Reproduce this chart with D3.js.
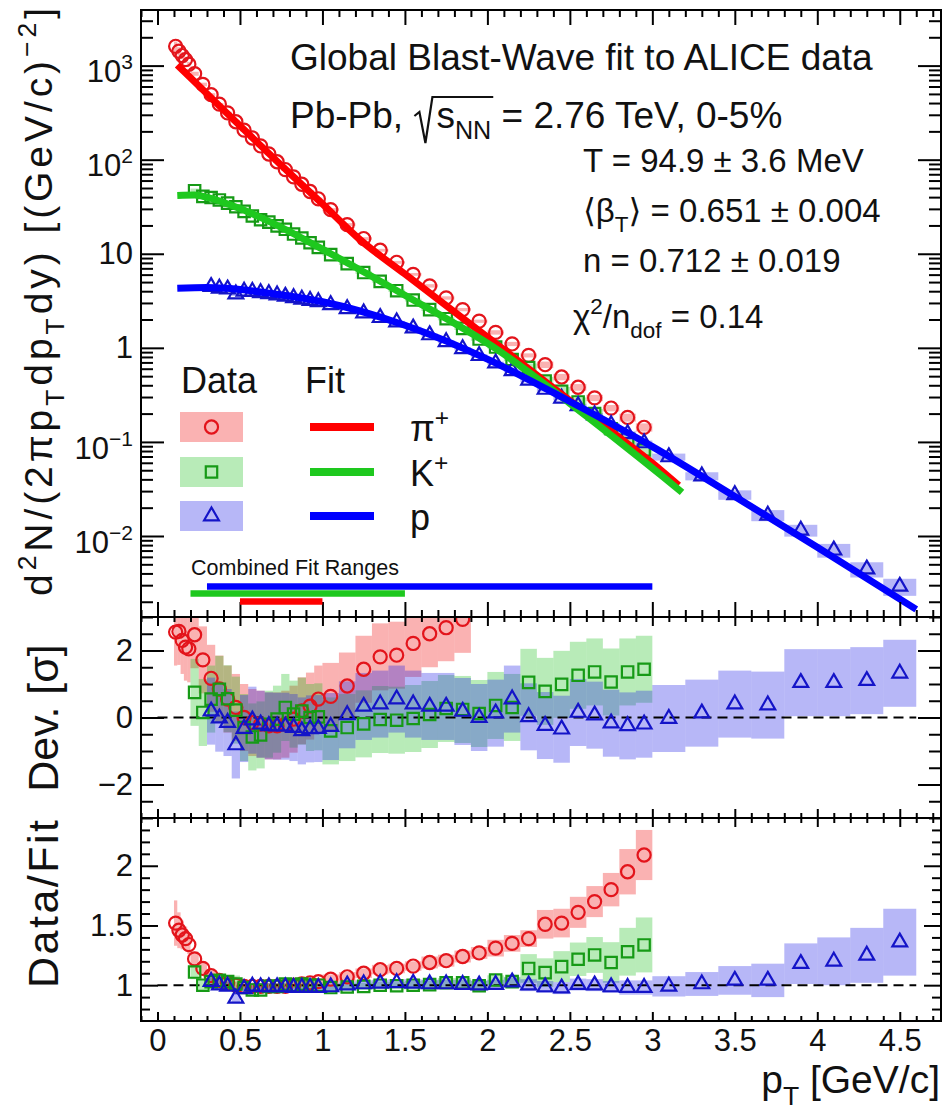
<!DOCTYPE html>
<html><head><meta charset="utf-8">
<script src="https://cdn.jsdelivr.net/npm/d3@7"></script>
<style>
html,body{margin:0;padding:0;background:#fff;}
svg text{font-family:"Liberation Sans","DejaVu Sans",Arial,sans-serif;fill:#111;white-space:pre;}
</style></head><body>
<svg id="chart" width="945" height="1113"></svg>
<script>
// ---------------- data ----------------
const xDomain = [-0.1, 4.75];
const specDomain = [1.377e-3, 3.9e3];
const devDomain = [-3, 3];
const ratioDomain = [0.7, 2.4];

const xMajor = [0,0.5,1,1.5,2,2.5,3,3.5,4,4.5];
const xMajorLabels = ["0","0.5","1","1.5","2","2.5","3","3.5","4","4.5"];
const specMajor = [1e-2,1e-1,1,10,1e2,1e3];
const specLabels = [[["10"],["−2","sup"]],[["10"],["−1","sup"]],[["1"]],[["10"]],[["10"],["2","sup"]],[["10"],["3","sup"]]];
const devMajor = [-2,0,2];
const devLabels = ["−2","0","2"];
const ratioMajor = [1,1.5,2];
const ratioLabels = ["1","1.5","2"];

// pi+
const piEdges = [0.10,0.12,0.14,0.16,0.18,0.20,0.25,0.30,0.35,0.40,0.45,0.50,0.55,0.60,0.65,0.70,0.75,0.80,0.85,0.90,0.95,1.00,1.1,1.2,1.3,1.4,1.5,1.6,1.7,1.8,1.9,2.0,2.1,2.2,2.3,2.4,2.5,2.6,2.7,2.8,2.9,3.0];
const piSpec = [1603,1422,1279,1159,1033,820,631,491,389,314,253,206,170,140,115,95.1,78.5,65.6,54.8,45.9,38.4,29.4,20.4,14.5,10.9,8.11,6.04,4.56,3.39,2.55,1.92,1.46,1.10,0.832,0.662,0.490,0.381,0.294,0.229,0.182,0.143];
const piRatio = [1.52,1.46,1.42,1.39,1.34,1.22,1.14,1.08,1.04,1.02,1.00,0.99,0.99,0.99,0.99,0.99,0.99,1.00,1.01,1.02,1.03,1.05,1.07,1.10,1.13,1.14,1.16,1.19,1.205,1.24,1.27,1.31,1.35,1.39,1.51,1.52,1.61,1.70,1.80,1.95,2.09];
const piRatioErr = [0.19,0.15,0.12,0.10,0.08,0.06,0.05,0.04,0.03,0.03,0.03,0.03,0.03,0.03,0.03,0.03,0.03,0.03,0.03,0.03,0.03,0.04,0.04,0.04,0.04,0.04,0.04,0.05,0.05,0.05,0.05,0.07,0.07,0.07,0.12,0.12,0.13,0.13,0.14,0.19,0.21];
const piDev = [2.55,2.57,2.3,2.1,2.05,2.47,1.72,1.17,0.85,0.55,0.3,0.0,-0.15,-0.2,-0.25,-0.25,-0.2,-0.05,0.2,0.34,0.55,0.63,0.94,1.44,1.81,1.86,2.21,2.5,2.68,2.93,null,null,null,null,null,null,null,null,null,null,null];
const piFitPt = [0.12,0.2,0.3,0.5,0.75,1.0,1.23,1.5,2.0,2.5,3.05,3.16];
const piFitVal = [1014,741,501,229,87.1,33.9,14.0,6.08,1.30,0.276,0.0504,0.0345];

// K+
const kEdges = [0.20,0.25,0.30,0.35,0.40,0.45,0.50,0.55,0.60,0.65,0.70,0.75,0.80,0.85,0.90,0.95,1.00,1.1,1.2,1.3,1.4,1.5,1.6,1.7,1.8,1.9,2.0,2.1,2.2,2.3,2.4,2.5,2.6,2.7,2.8,2.9,3.0];
const kSpec = [46.8,40.7,39.6,37.3,34.5,31.6,28.2,25.2,23.0,21.7,19.8,18.2,16.2,14.7,13.1,11.7,9.8,7.85,6.31,5.09,4.05,3.22,2.55,2.04,1.61,1.24,1.02,0.752,0.618,0.444,0.345,0.266,0.200,0.138,0.108,0.082];
const kRatio = [1.11,1.00,1.03,1.04,1.03,1.01,0.98,0.96,0.96,0.99,0.99,1.01,1.00,1.01,1.00,1.00,0.98,0.985,0.99,1.00,0.995,1.00,1.005,1.02,1.02,0.995,1.043,1.03,1.14,1.105,1.155,1.217,1.253,1.19,1.28,1.337];
const kRatioErr = [0.06,0.05,0.04,0.04,0.05,0.07,0.03,0.03,0.03,0.03,0.03,0.03,0.03,0.03,0.03,0.03,0.03,0.03,0.03,0.03,0.03,0.035,0.035,0.04,0.04,0.04,0.04,0.04,0.12,0.12,0.13,0.14,0.15,0.17,0.20,0.23];
const kDev = [0.75,0.15,0.55,0.84,0.56,0.22,-0.3,-0.58,-0.52,-0.2,-0.05,0.3,0.1,0.19,0.0,0.02,-0.4,-0.3,-0.19,-0.06,-0.08,-0.03,0.09,0.27,0.24,0.12,0.36,0.3,1.05,0.78,0.99,1.26,1.36,1.06,1.36,1.44];
const kFitPt = [0.12,0.225,0.3,0.5,0.75,1.05,1.5,2.06,2.5,3.05,3.18];
const kFitVal = [41.7,42.2,39.8,30.2,19.1,10.0,3.63,0.955,0.257,0.0447,0.0291];

// p
const pEdges = [0.30,0.35,0.40,0.45,0.50,0.55,0.60,0.65,0.70,0.75,0.80,0.85,0.90,0.95,1.00,1.1,1.2,1.3,1.4,1.5,1.6,1.7,1.8,1.9,2.0,2.1,2.2,2.3,2.4,2.5,2.6,2.7,2.8,2.9,3.0,3.2,3.4,3.6,3.8,4.0,4.2,4.4,4.6];
const pSpec = [4.47,4.29,4.20,3.73,3.99,3.97,3.85,3.75,3.64,3.52,3.40,3.28,3.18,3.08,2.87,2.60,2.34,2.09,1.88,1.62,1.37,1.16,0.977,0.824,0.687,0.570,0.452,0.361,0.291,0.242,0.193,0.152,0.122,0.0975,0.0692,0.0433,0.0274,0.0166,0.0115,0.00706,0.00444,0.00291];
const pRatio = [1.03,1.00,0.99,0.89,0.97,0.99,0.985,0.985,0.985,0.985,0.98,0.98,0.98,0.98,0.985,1.0,1.01,1.015,1.02,1.015,1.01,1.01,1.005,1.0,1.005,1.025,1.0,0.985,0.975,1.005,1.0,0.985,0.98,0.98,0.99,1.01,1.04,1.04,1.18,1.2,1.25,1.36];
const pRatioErr = [0.04,0.04,0.04,0.04,0.03,0.03,0.03,0.03,0.03,0.03,0.03,0.03,0.03,0.03,0.03,0.03,0.03,0.03,0.03,0.035,0.035,0.035,0.04,0.04,0.04,0.04,0.05,0.05,0.05,0.05,0.05,0.05,0.06,0.06,0.085,0.10,0.12,0.14,0.17,0.20,0.23,0.28];
const pDev = [0.19,-0.02,-0.15,-0.82,-0.33,-0.08,-0.2,-0.25,-0.26,-0.26,-0.3,-0.4,-0.34,-0.33,-0.27,0.08,0.33,0.4,0.55,0.4,0.33,0.33,0.18,0.0,0.13,0.55,0.02,-0.24,-0.35,0.15,0.07,-0.17,-0.25,-0.2,-0.03,0.13,0.4,0.37,1.04,1.04,1.1,1.32];
const pFitPt = [0.12,0.3,0.5,0.7,1.0,1.5,2.0,2.5,3.0,3.5,4.0,4.6];
const pFitVal = [4.30,4.37,4.17,3.76,3.09,1.74,0.759,0.269,0.0891,0.0263,0.00759,0.00166];

const devBand = 1.0;           // deviation band = +-1 sigma
const fitRanges = [[0.3,3.0],[0.2,1.5],[0.5,1.0]]; // p, K, pi
const legendNames = [[["π"],["+","sup"]],[["K"],["+","sup"]],[["p"]]];
const params = [
  [["T = 94.9 ± 3.6 MeV"]],
  [["⟨β"],["T","sub"],["⟩ = 0.651 ± 0.004"]],
  [["n = 0.712 ± 0.019"]],
  [["χ"],["2","sup"],["/n"],["dof","sub"],[" = 0.14"]]
];

// ---------------- layout ----------------
const svg = d3.select("#chart");
const L = 141, R = 941;
const P = {spec:[10,617], dev:[617,818], ratio:[818,1021]};
const x = d3.scaleLinear().domain(xDomain).range([L,R]);
const ySpec = d3.scaleLog().domain(specDomain).range([P.spec[1],P.spec[0]]);
const yDev = d3.scaleLinear().domain(devDomain).range([P.dev[1],P.dev[0]]);
const yRat = d3.scaleLinear().domain(ratioDomain).range([P.ratio[1],P.ratio[0]]);

const defs = svg.append("defs");
Object.entries(P).forEach(([k,[t,b]])=>{
  defs.append("clipPath").attr("id","clip-"+k).append("rect")
    .attr("x",L).attr("y",t).attr("width",R-L).attr("height",b-t);
});

function mkBins(edges, spec, ratio, rErr, dev){
  return d3.range(edges.length-1).map(i=>({lo:edges[i],hi:edges[i+1],pt:(edges[i]+edges[i+1])/2,
    spec:spec[i],ratio:ratio[i],rErr:rErr[i],dev:dev[i]}));
}
const species = [
  {key:"pi", bins:mkBins(piEdges,piSpec,piRatio,piRatioErr,piDev), fit:piFitPt.map((p,i)=>[p,piFitVal[i]]),
   sym:d3.symbolCircle, size:135, mk:"#e3141b", line:"#ff0000", band:"rgba(240,0,0,0.30)"},
  {key:"k", bins:mkBins(kEdges,kSpec,kRatio,kRatioErr,kDev), fit:kFitPt.map((p,i)=>[p,kFitVal[i]]),
   sym:d3.symbolSquare, size:130, mk:"#169a16", line:"#1ec81e", band:"rgba(20,190,20,0.30)"},
  {key:"p", bins:mkBins(pEdges,pSpec,pRatio,pRatioErr,pDev), fit:pFitPt.map((p,i)=>[p,pFitVal[i]]),
   sym:d3.symbolTriangle, size:95, mk:"#1414c8", line:"#0000ff", band:"rgba(30,30,230,0.32)"}
];
const fitColor = {p:"#0000ff", k:"#1ec81e", pi:"#ff0000"};

function rich(g, xx, yy, parts, size, anchor){
  const t = g.append("text").attr("x",xx).attr("y",yy).attr("font-size",size);
  if (anchor) t.attr("text-anchor",anchor);
  let shift = 0;
  parts.forEach(([str,kind])=>{
    const target = kind==="sub" ? 0.30*size : kind==="sup" ? -0.42*size : 0;
    const ts = t.append("tspan").text(str);
    if (target-shift !== 0) ts.attr("dy", target-shift);
    if (kind) ts.attr("font-size", 0.68*size);
    shift = target;
  });
  return t;
}

// ---------------- panel contents ----------------
const gSpec = svg.append("g").attr("clip-path","url(#clip-spec)");
const gDev = svg.append("g").attr("clip-path","url(#clip-dev)");
const gRat = svg.append("g").attr("clip-path","url(#clip-ratio)");

species.forEach(s=>{
  gSpec.append("g").selectAll("rect").data(s.bins).join("rect")
    .attr("x",d=>x(d.lo)).attr("width",d=>x(d.hi)-x(d.lo))
    .attr("y",d=>ySpec(d.spec*(1+d.rErr/d.ratio)))
    .attr("height",d=>ySpec(d.spec*(1-d.rErr/d.ratio))-ySpec(d.spec*(1+d.rErr/d.ratio)))
    .attr("fill",s.band);
});
species.forEach(s=>{
  gSpec.append("g").selectAll("path").data(s.bins).join("path")
    .attr("d",d3.symbol().type(s.sym).size(s.size))
    .attr("transform",d=>`translate(${x(d.pt)},${ySpec(d.spec)})`)
    .attr("fill","none").attr("stroke",s.mk).attr("stroke-width",2.2);
});
const lineGen = d3.line().x(d=>x(d[0])).y(d=>ySpec(d[1])).curve(d3.curveMonotoneX);
species.forEach(s=>{
  gSpec.append("path").datum(s.fit).attr("d",lineGen).attr("fill","none")
    .attr("stroke",s.line).attr("stroke-width",7);
});

species.forEach(s=>{
  gDev.append("g").selectAll("rect").data(s.bins.filter(d=>d.dev!==null)).join("rect")
    .attr("x",d=>x(d.lo)).attr("width",d=>x(d.hi)-x(d.lo))
    .attr("y",d=>yDev(d.dev+devBand)).attr("height",d=>yDev(d.dev-devBand)-yDev(d.dev+devBand))
    .attr("fill",s.band);
});
gDev.append("line").attr("x1",x(0)).attr("x2",x(4.6)).attr("y1",yDev(0)).attr("y2",yDev(0))
  .attr("stroke","#000").attr("stroke-width",2).attr("stroke-dasharray","10,6");
species.forEach(s=>{
  gDev.append("g").selectAll("path").data(s.bins.filter(d=>d.dev!==null)).join("path")
    .attr("d",d3.symbol().type(s.sym).size(s.size))
    .attr("transform",d=>`translate(${x(d.pt)},${yDev(d.dev)})`)
    .attr("fill","none").attr("stroke",s.mk).attr("stroke-width",2.2);
});

species.forEach(s=>{
  gRat.append("g").selectAll("rect").data(s.bins).join("rect")
    .attr("x",d=>x(d.lo)).attr("width",d=>x(d.hi)-x(d.lo))
    .attr("y",d=>yRat(d.ratio+d.rErr)).attr("height",d=>yRat(d.ratio-d.rErr)-yRat(d.ratio+d.rErr))
    .attr("fill",s.band);
});
gRat.append("line").attr("x1",x(0)).attr("x2",x(4.6)).attr("y1",yRat(1)).attr("y2",yRat(1))
  .attr("stroke","#000").attr("stroke-width",2).attr("stroke-dasharray","10,6");
species.forEach(s=>{
  gRat.append("g").selectAll("path").data(s.bins).join("path")
    .attr("d",d3.symbol().type(s.sym).size(s.size))
    .attr("transform",d=>`translate(${x(d.pt)},${yRat(d.ratio)})`)
    .attr("fill","none").attr("stroke",s.mk).attr("stroke-width",2.2);
});

// ---------------- axes ----------------
function styleAxis(g){
  g.select(".domain").remove();
  g.selectAll(".tick line").attr("stroke","#000").attr("stroke-width",2);
  g.selectAll(".tick text").attr("fill","#111").attr("font-size",31);
}
const xMinor = d3.range(-10,476,10).map(v=>v/100).filter(v=>xMajor.indexOf(v)<0);
function xTicks(yPos, dir, majLen, minLen, labels){
  const ax = dir==="up" ? d3.axisBottom(x) : d3.axisTop(x);
  svg.append("g").attr("transform",`translate(0,${yPos})`)
    .call(ax.tickValues(xMinor).tickSize(-minLen).tickSizeOuter(0).tickFormat(""))
    .call(styleAxis);
  const ax2 = dir==="up" ? d3.axisBottom(x) : d3.axisTop(x);
  return svg.append("g").attr("transform",`translate(0,${yPos})`)
    .call(ax2.tickValues(xMajor).tickSize(-majLen).tickSizeOuter(0).tickPadding(8)
      .tickFormat(labels ? (d,i)=>labels[i] : ""))
    .call(styleAxis);
}
xTicks(P.spec[1],"up",15,7);
xTicks(P.spec[0],"down",15,7);
xTicks(P.dev[0],"down",9,5);
xTicks(P.dev[1],"up",9,5);
xTicks(P.ratio[0],"down",9,5);
xTicks(P.ratio[1],"up",9,5,xMajorLabels);

function yTicks(scale, majors, minors, majLen, minLen, labels){
  svg.append("g").attr("transform",`translate(${L},0)`)
    .call(d3.axisLeft(scale).tickValues(minors).tickSize(-minLen).tickSizeOuter(0).tickFormat(""))
    .call(styleAxis);
  svg.append("g").attr("transform",`translate(${R},0)`)
    .call(d3.axisRight(scale).tickValues(minors).tickSize(-minLen).tickSizeOuter(0).tickFormat(""))
    .call(styleAxis);
  svg.append("g").attr("transform",`translate(${R},0)`)
    .call(d3.axisRight(scale).tickValues(majors).tickSize(-majLen).tickSizeOuter(0).tickFormat(""))
    .call(styleAxis);
  return svg.append("g").attr("transform",`translate(${L},0)`)
    .call(d3.axisLeft(scale).tickValues(majors).tickSize(-majLen).tickSizeOuter(0).tickPadding(8)
      .tickFormat((d,i)=>typeof labels[i]==="string"?labels[i]:""))
    .call(styleAxis);
}
const specMinor = [];
for (let e=-3;e<=3;e++) for (let m=2;m<=9;m++){ const v=m*Math.pow(10,e); if(v>specDomain[0]&&v<specDomain[1]) specMinor.push(v); }
const gys = yTicks(ySpec, specMajor, specMinor, 23, 12, specMajor.map(()=>null));
gys.selectAll(".tick text").each(function(d,i){
  const t = d3.select(this); t.text(null);
  const parts = specLabels[i];
  if (parts.length>1) t.attr("dy","0.52em");
  parts.forEach(([s,k])=>{
    const ts = t.append("tspan").text(s);
    if (k==="sup") ts.attr("font-size",21).attr("dy","-0.62em");
  });
});
const devMinor = d3.range(-6,7).map(v=>v/2).filter(v=>devMajor.indexOf(v)<0);
yTicks(yDev, devMajor, devMinor, 23, 12, devLabels);
const ratMinor = d3.range(8,24).map(v=>v/10).filter(v=>Math.abs(v-1)>1e-9&&Math.abs(v-1.5)>1e-9&&Math.abs(v-2)>1e-9);
yTicks(yRat, ratioMajor, ratMinor, 17, 9, ratioLabels);

Object.values(P).forEach(([t,b])=>{
  svg.append("rect").attr("x",L).attr("y",t).attr("width",R-L).attr("height",b-t)
    .attr("fill","none").attr("stroke","#000").attr("stroke-width",2);
});

// ---------------- texts ----------------
rich(svg, 290, 70, [["Global Blast-Wave fit to ALICE data"]], 37);
const t1 = rich(svg, 290, 128, [["Pb-Pb, "]], 37);
const w1 = t1.node().getComputedTextLength();
const rx = 290 + w1 + 1;
const t2 = rich(svg, rx + 22, 128, [["s"],["NN","sub"],[" = 2.76 TeV, 0-5%"]], 37);
const sEnd = t2.node().getEndPositionOfChar(2).x;
svg.append("path").attr("d",`M${rx},${116} L${rx+5},${112} L${rx+11},${143} L${rx+18},${97} L${sEnd+2},${97}`)
  .attr("fill","none").attr("stroke","#111").attr("stroke-width",2.2);

const paramPos = [[583,172],[583,222],[583,272],[573,328]];
params.forEach((p,i)=>rich(svg, paramPos[i][0], paramPos[i][1], p, 33));

rich(svg, 181, 393, [["Data"]], 36);
rich(svg, 305, 393, [["Fit"]], 36);
const legY = [427, 472, 516];
species.forEach((s,i)=>{
  svg.append("rect").attr("x",180).attr("y",legY[i]-15).attr("width",63).attr("height",30).attr("fill",s.band);
  svg.append("path").attr("d",d3.symbol().type(s.sym).size(s.size)()).attr("transform",`translate(211.5,${legY[i]})`)
    .attr("fill","none").attr("stroke",s.mk).attr("stroke-width",2.2);
  svg.append("line").attr("x1",310).attr("x2",374).attr("y1",legY[i]).attr("y2",legY[i])
    .attr("stroke",s.line).attr("stroke-width",8);
  rich(svg, 410, legY[i]+14, legendNames[i], 36);
});

rich(svg, 191, 575, [["Combined Fit Ranges"]], 21.5);
const barY = [586.5, 593.5, 601.5];
const barKeys = ["p","k","pi"];
fitRanges.forEach((r,i)=>{
  svg.append("line").attr("x1",x(r[0])).attr("x2",x(r[1])).attr("y1",barY[i]).attr("y2",barY[i])
    .attr("stroke",fitColor[barKeys[i]]).attr("stroke-width",6.5);
});

// axis titles
const gT = svg.append("g").attr("transform","translate(52,302) rotate(-90)");
rich(gT,0,0,[["d"],["2","sup"],["N/(2πp"],["T","sub"],["dp"],["T","sub"],["dy) [(GeV/c)"],["−2","sup"],["]"]],39,"middle")
  .attr("textLength",588).attr("lengthAdjust","spacing");
const gD = svg.append("g").attr("transform","translate(58,718) rotate(-90)");
rich(gD,0,0,[["Dev. [σ]"]],43,"middle");
const gF = svg.append("g").attr("transform","translate(58,904) rotate(-90)");
rich(gF,0,0,[["Data/Fit"]],43,"middle").attr("textLength",168).attr("lengthAdjust","spacing");
rich(svg, 940, 1093, [["p"],["T","sub"],[" [GeV/c]"]], 39, "end");
</script>
</body></html>
